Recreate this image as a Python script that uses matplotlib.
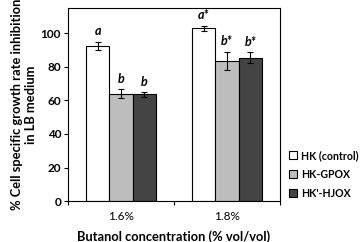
import numpy as np
import matplotlib
matplotlib.use("Agg")
import matplotlib.pyplot as plt

plt.rcParams['font.family'] = ['Lato', 'DejaVu Sans']

# data
groups = ['1.6%', '1.8%']
series = ['HK (control)', 'HK-GPOX', "HK'-HJOX"]
values = [[92.5, 64.0, 63.5],
          [103.0, 83.5, 85.5]]
errors = [[2.5, 2.5, 1.5],
          [1.5, 5.5, 3.0]]
letters = [['a', 'b', 'b'],
           ['a*', 'b*', 'b*']]
colors = ['white', '#bdbdbd', '#444444']

fig = plt.figure(figsize=(3.6, 2.42), dpi=100)
ax = fig.add_axes([0.189, 0.169, 0.589, 0.798])

x = np.arange(len(groups))
width = 0.22
for j in range(len(series)):
    xs = x + (j - 1) * width
    vals = [values[i][j] for i in range(len(groups))]
    errs = [errors[i][j] for i in range(len(groups))]
    ax.bar(xs, vals, width, color=colors[j], edgecolor='black', linewidth=0.8,
           label=series[j], zorder=2)
    ax.errorbar(xs, vals, yerr=errs, fmt='none', ecolor='black', elinewidth=0.8,
                capsize=2, capthick=0.8, zorder=3)
    for i in range(len(groups)):
        ax.text(xs[i], vals[i] + errs[i] + 2.5, letters[i][j], ha='center', va='bottom',
                fontsize=9, fontweight='bold', style='italic')

ax.set_xlim(-0.5, 1.5)
ax.set_ylim(0, 115)
ax.set_yticks([0, 20, 40, 60, 80, 100])
ax.set_yticklabels(['0', '20', '40', '60', '80', '100'], fontsize=8.5, fontweight='bold')
ax.set_xticks([-0.5, 0.5, 1.5])
ax.set_xticklabels(['', '', ''])
ax.set_xticks(x, minor=True)
ax.set_xticklabels(groups, minor=True, fontsize=8.5)
ax.tick_params(axis='x', which='minor', length=0, pad=7)
ax.tick_params(axis='x', which='major', length=3, width=0.8, direction='out')
ax.tick_params(axis='y', length=3, width=0.8, direction='out', pad=2)
for s in ax.spines.values():
    s.set_linewidth(0.8)

ax.set_ylabel('% Cell specific growth rate inhibition\nin LB medium', fontsize=9.3,
              fontweight='bold', labelpad=3, linespacing=1.2)
ax.set_xlabel('Butanol concentration (% vol/vol)', fontsize=9.3, fontweight='bold', labelpad=6)

ax.legend(loc='center left', bbox_to_anchor=(0.803, 0.28), bbox_transform=fig.transFigure,
          frameon=False, prop={'weight': 'bold', 'size': 7.6},
          handlelength=0.75, handleheight=0.75, handletextpad=0.35, labelspacing=0.75,
          borderaxespad=0, borderpad=0)

fig.savefig('out.png', dpi=100)
